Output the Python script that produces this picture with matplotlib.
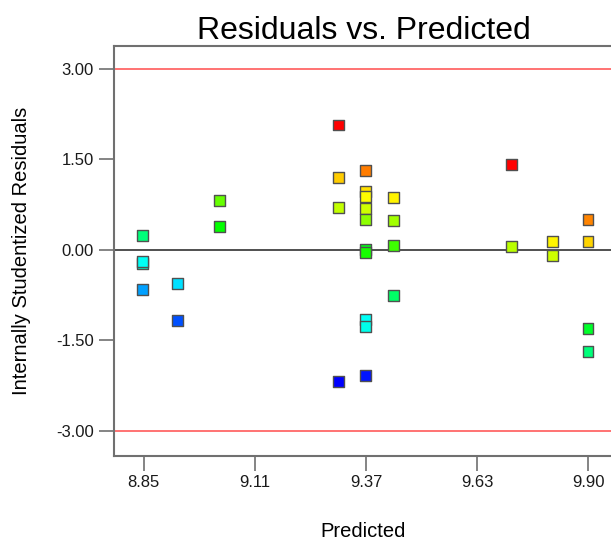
import numpy as np
import matplotlib
matplotlib.use("Agg")
import matplotlib.pyplot as plt
from matplotlib.colors import LinearSegmentedColormap

plt.rcParams['font.family'] = ['Liberation Sans', 'DejaVu Sans']

# predicted values, studentized residuals and colour value of each run
predicted = [8.848, 8.848, 8.848, 8.848, 8.930, 8.930, 9.028, 9.028,
             9.310, 9.310, 9.310, 9.310,
             9.373, 9.373, 9.373, 9.373, 9.373, 9.373, 9.373, 9.373, 9.373, 9.373,
             9.439, 9.439, 9.439, 9.439,
             9.718, 9.718, 9.816, 9.816,
             9.899, 9.899, 9.899, 9.899]
residuals = [0.23, -0.23, -0.19, -0.66, -0.56, -1.18, 0.81, 0.39,
             2.07, 1.20, 0.70, -2.18,
             1.32, 0.97, 0.88, 0.69, 0.51, 0.01, -0.05, -1.16, -1.27, -2.08,
             0.87, 0.49, 0.07, -0.76,
             1.42, 0.05, 0.14, -0.09,
             0.50, 0.14, -1.30, -1.69]
color_val = [0.38, 0.30, 0.26, 0.16, 0.22, 0.08, 0.60, 0.50,
             1.00, 0.80, 0.69, 0.00,
             0.875, 0.78, 0.75, 0.70, 0.64, 0.48, 0.52, 0.26, 0.27, 0.02,
             0.76, 0.66, 0.56, 0.40,
             1.00, 0.68, 0.76, 0.70,
             0.87, 0.79, 0.46, 0.38]

x_ticks = [8.85, 9.1125, 9.375, 9.6375, 9.90]
x_tick_labels = ['8.85', '9.11', '9.37', '9.63', '9.90']
y_ticks = [-3.0, -1.5, 0.0, 1.5, 3.0]
y_tick_labels = ['-3.00', '-1.50', '0.00', '1.50', '3.00']
limits = [-3.0, 3.0]

cmap = LinearSegmentedColormap.from_list(
    'rainbow5', ['#0000ff', '#00ffff', '#00ff00', '#ffff00', '#ff0000'])

fig = plt.figure(figsize=(6.11, 5.43), dpi=100)
ax = fig.add_axes([0.1866, 0.1602, 0.8167, 0.7551])

# limit lines and zero line
for lim in limits:
    ax.axhline(lim, color='#ff5a5a', lw=1.2, zorder=1)
ax.axhline(0, color='#202020', lw=1.1, zorder=1)

ax.scatter(predicted, residuals, c=color_val, cmap=cmap, vmin=0, vmax=1,
           marker='s', s=62, edgecolors='#505050', linewidths=1.0, zorder=3)

ax.set_xlim(8.780, 9.958)
ax.set_ylim(-3.42, 3.38)
ax.set_xticks(x_ticks)
ax.set_xticklabels(x_tick_labels)
ax.set_yticks(y_ticks)
ax.set_yticklabels(y_tick_labels)

for side in ['left', 'bottom', 'top', 'right']:
    ax.spines[side].set_color('#707070')
    ax.spines[side].set_linewidth(1.5)
ax.tick_params(direction='out', length=11, width=1.2, color='#707070',
               labelsize=12, labelcolor='#1a1a1a', pad=3.5)
ax.tick_params(axis='x', pad=3)

ax.set_title('Residuals vs. Predicted', fontsize=23, pad=4)
ax.set_xlabel('Predicted', fontsize=14.5, labelpad=23)
ax.set_ylabel('Internally Studentized Residuals', fontsize=14.5, labelpad=18)

fig.savefig('out.png', dpi=100)
